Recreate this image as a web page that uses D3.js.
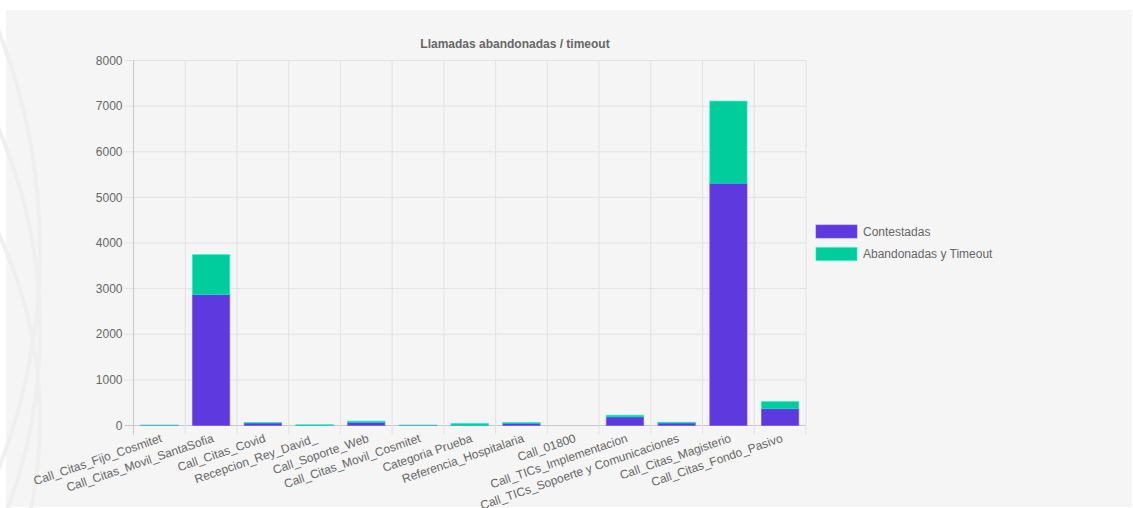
<!DOCTYPE html>
<html>
<head>
<meta charset="utf-8">
<script src="https://cdn.jsdelivr.net/npm/d3@7"></script>
<style>
  body { margin: 0; background: #fff; }
  svg { display: block; }
  text { font-family: "Liberation Sans", Arial, Helvetica, sans-serif; fill: #666; }
</style>
</head>
<body>
<script>
var categories = ["Call_Citas_Fijo_Cosmitet", "Call_Citas_Movil_SantaSofia", "Call_Citas_Covid",
  "Recepcion_Rey_David_", "Call_Soporte_Web", "Call_Citas_Movil_Cosmitet", "Categoria Prueba",
  "Referencia_Hospitalaria", "Call_01800", "Call_TICs_Implementacion",
  "Call_TICs_Sopoerte y Comunicaciones", "Call_Citas_Magisterio", "Call_Citas_Fondo_Pasivo"];
var contestadas = [4, 2870, 55, 3, 70, 4, 5, 50, 0, 190, 55, 5310, 370];
var abandonadas = [2, 875, 8, 15, 25, 2, 40, 15, 0, 35, 15, 1800, 155];
var seriesNames = ["Contestadas", "Abandonadas y Timeout"];
var seriesColors = ["#5e3ade", "#00cc9c"];
var yTicks = [0, 1000, 2000, 3000, 4000, 5000, 6000, 7000, 8000];

var W = 1133, H = 508;
var margin = {top: 60.5, left: 133.5, right: 327, bottom: 83};
var width = W - margin.left - margin.right,
    height = 425.5 - margin.top;

var svg = d3.select("body").append("svg")
  .attr("width", W).attr("height", H);

// panel background
svg.append("rect")
  .attr("x", 6).attr("y", 10).attr("width", 1126).attr("height", 497)
  .attr("fill", "#f5f5f5");

// faint watermark arcs on the left edge
[[-560, 250, 600], [-470, 330, 510], [-400, 420, 440]].forEach(function(a) {
  svg.append("circle")
    .attr("cx", a[0]).attr("cy", a[1]).attr("r", a[2])
    .attr("fill", "none").attr("stroke", "#efefef").attr("stroke-width", 4);
});

var rows = categories.map(function(c, i) {
  return {cat: c, Contestadas: contestadas[i], "Abandonadas y Timeout": abandonadas[i]};
});
var stacked = d3.stack().keys(seriesNames)(rows);

var x = d3.scaleBand().domain(categories).range([0, width]).paddingInner(0).paddingOuter(0);
var y = d3.scaleLinear().domain([0, 8000]).range([height, 0]);

var g = svg.append("g")
  .attr("transform", "translate(" + margin.left + "," + margin.top + ")");

// title
svg.append("text")
  .attr("x", 515).attr("y", 48)
  .attr("text-anchor", "middle")
  .style("font-size", "12px").style("font-weight", "bold")
  .text("Llamadas abandonadas / timeout");

// horizontal grid
g.selectAll(".hgrid").data(yTicks).enter().append("line")
  .attr("x1", -9).attr("x2", width)
  .attr("y1", function(d) { return y(d); }).attr("y2", function(d) { return y(d); })
  .attr("stroke", function(d) { return d === 0 ? "#c8c8c8" : "#e2e2e2"; })
  .attr("stroke-width", 1);

// vertical grid at category boundaries
var bounds = categories.map(function(c) { return x(c); }).concat([width]);
g.selectAll(".vgrid").data(bounds).enter().append("line")
  .attr("x1", function(d) { return d; }).attr("x2", function(d) { return d; })
  .attr("y1", 0).attr("y2", height + 9)
  .attr("stroke", function(d, i) { return i === 0 ? "#c8c8c8" : "#e2e2e2"; })
  .attr("stroke-width", 1);

// y tick labels
g.selectAll(".ylab").data(yTicks).enter().append("text")
  .attr("x", -11).attr("y", function(d) { return y(d); })
  .attr("dy", "0.35em")
  .attr("text-anchor", "end")
  .style("font-size", "12px")
  .text(function(d) { return d; });

// bars
var bw = x.bandwidth() * 0.72;
g.selectAll(".series").data(stacked).enter().append("g")
  .attr("fill", function(d, i) { return seriesColors[i]; })
  .attr("stroke", function(d, i) { return d3.color(seriesColors[i]).brighter(0.6); })
  .attr("stroke-opacity", 0.6)
  .selectAll("rect").data(function(d) { return d; }).enter().append("rect")
    .attr("x", function(d) { return x(d.data.cat) + (x.bandwidth() - bw) / 2; })
    .attr("width", bw)
    .attr("y", function(d) { return y(d[1]); })
    .attr("height", function(d) { return Math.max(0, y(d[0]) - y(d[1])); });

// x labels
g.selectAll(".xlab").data(categories).enter().append("text")
  .attr("transform", function(d) {
    return "translate(" + (x(d) + x.bandwidth() / 2 + 2) + "," + (height + 12) + ") rotate(-19)";
  })
  .attr("dy", "0.35em")
  .attr("text-anchor", "end")
  .style("font-size", "12px")
  .text(function(d) { return d; });

// legend
var legend = svg.append("g").attr("transform", "translate(816,225)");
seriesNames.forEach(function(s, i) {
  legend.append("rect")
    .attr("x", 0).attr("y", i * 22.5).attr("width", 41).attr("height", 13)
    .attr("fill", seriesColors[i])
    .attr("stroke", d3.color(seriesColors[i]).brighter(0.6)).attr("stroke-opacity", 0.6);
  legend.append("text")
    .attr("x", 47).attr("y", i * 22.5 + 6.5).attr("dy", "0.35em")
    .style("font-size", "12px")
    .text(s);
});
</script>
</body>
</html>
